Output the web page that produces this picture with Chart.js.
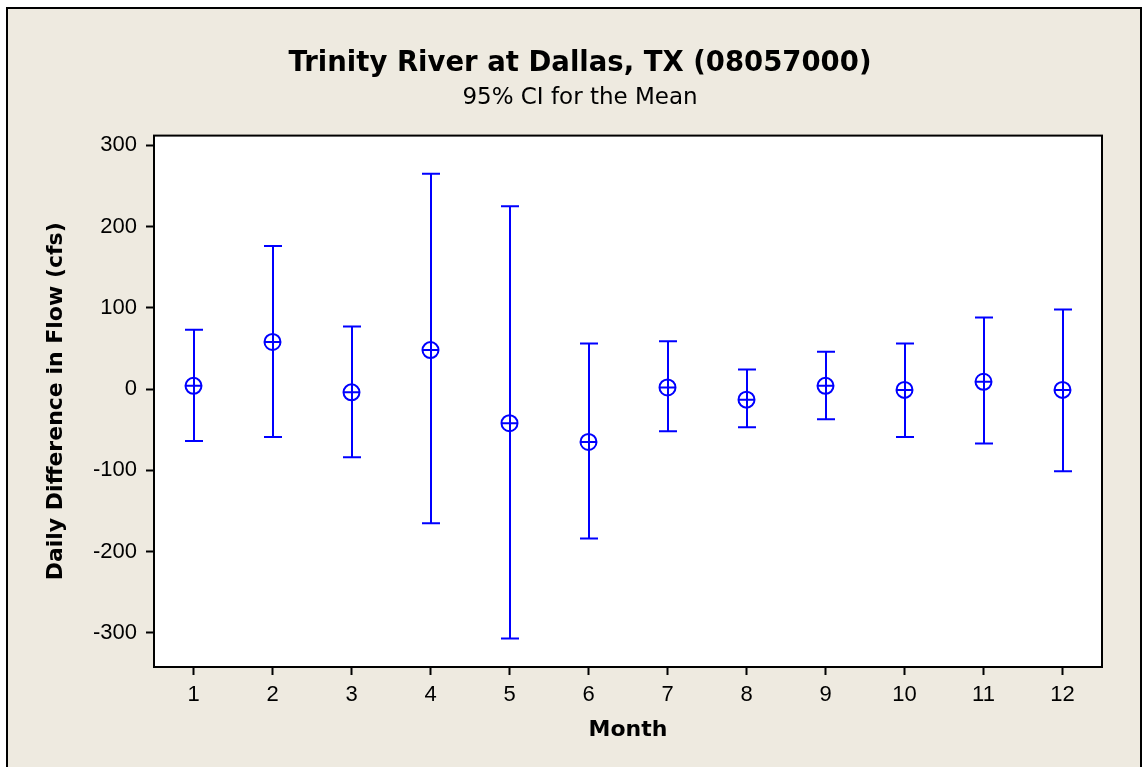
<!DOCTYPE html>
<html><head><meta charset="utf-8">
<script src="https://cdn.jsdelivr.net/npm/chart.js@4/dist/chart.umd.min.js"></script>
<style>html,body{margin:0;padding:0;background:#fff;overflow:hidden}#wrap{width:1144px;height:767px;position:relative}</style>
</head><body><div id="wrap"><canvas id="c"></canvas></div>
<script>
const months = [1,2,3,4,5,6,7,8,9,10,11,12];
const monthLabels = ['1','2','3','4','5','6','7','8','9','10','11','12'];
const meanValues = [4, 58, -4, 48, -42, -65, 2, -13, 4, -1, 9, -1];
const upperCI = [73, 176, 77, 265, 225, 56, 59, 24, 46, 56, 88, 98];
const lowerCI = [-64, -59, -84, -165, -307, -184, -52, -47, -37, -59, -67, -101];
const yTickValues = [-300, -200, -100, 0, 100, 200, 300];
const yTickLabels = ['-300', '-200', '-100', '0', '100', '200', '300'];

const BLUE = '#0000ff';
const BG = '#eeeae0';

const framePlugin = {
  id: 'frame',
  beforeDraw(chart) {
    const {ctx, chartArea: a, width, height} = chart;
    ctx.save();
    ctx.fillStyle = '#fff';
    ctx.fillRect(0, 0, width, height);
    ctx.fillStyle = BG;
    ctx.fillRect(7, 8, 1134, height);
    ctx.strokeStyle = '#000';
    ctx.lineWidth = 2;
    ctx.strokeRect(7, 8, 1134, height + 20);
    ctx.fillStyle = '#fff';
    ctx.fillRect(a.left, a.top, a.right - a.left, a.bottom - a.top);
    ctx.restore();
  },
  afterDraw(chart) {
    const {ctx, chartArea: a} = chart;
    ctx.save();
    ctx.strokeStyle = '#000';
    ctx.lineWidth = 2;
    ctx.strokeRect(a.left, a.top, a.right - a.left, a.bottom - a.top);
    ctx.restore();
  }
};

const errorBarPlugin = {
  id: 'errbars',
  afterDatasetsDraw(chart) {
    const {ctx} = chart;
    const xs = chart.scales.x, ys = chart.scales.y;
    ctx.save();
    ctx.strokeStyle = BLUE;
    ctx.lineWidth = 2;
    const cap = 9, r = 8;
    months.forEach((m, i) => {
      const x = Math.round(xs.getPixelForValue(m));
      const yU = ys.getPixelForValue(upperCI[i]);
      const yL = ys.getPixelForValue(lowerCI[i]);
      const yM = ys.getPixelForValue(meanValues[i]);
      ctx.beginPath();
      ctx.moveTo(x, yU); ctx.lineTo(x, yL);
      ctx.moveTo(x - cap, yU); ctx.lineTo(x + cap, yU);
      ctx.moveTo(x - cap, yL); ctx.lineTo(x + cap, yL);
      ctx.moveTo(x - r, yM); ctx.lineTo(x + r, yM);
      ctx.stroke();
    });
    ctx.restore();
  }
};

new Chart(document.getElementById('c'), {
  type: 'scatter',
  data: {
    datasets: [{
      data: months.map((m, i) => ({x: m, y: meanValues[i]})),
      pointStyle: 'circle',
      pointRadius: 8,
      pointHoverRadius: 8,
      pointBorderWidth: 2,
      borderColor: BLUE,
      backgroundColor: 'rgba(0,0,0,0)',
      showLine: false
    }]
  },
  options: {
    responsive: true,
    maintainAspectRatio: false,
    animation: false,
    devicePixelRatio: 1,
    events: [],
    layout: {padding: {left: 58, right: 42, top: 0, bottom: 0}},
    plugins: {
      legend: {display: false},
      tooltip: {enabled: false},
      title: {
        display: true,
        text: 'Trinity River at Dallas, TX (08057000)',
        color: '#000',
        font: {family: 'DejaVu Sans', size: 27.5, weight: 'bold'},
        padding: {top: 47, bottom: 0}
      },
      subtitle: {
        display: true,
        text: '95% CI for the Mean',
        color: '#000',
        font: {family: 'DejaVu Sans', size: 23},
        padding: {top: 4, bottom: 24}
      }
    },
    scales: {
      x: {
        type: 'linear',
        min: 0.5,
        max: 12.5,
        afterBuildTicks(s) { s.ticks = months.map(v => ({value: v})); },
        ticks: {
          color: '#000',
          padding: 7,
          font: {family: 'Liberation Sans', size: 22},
          callback: (v) => { const k = months.indexOf(v); return k >= 0 ? monthLabels[k] : ''; }
        },
        grid: {display: true, drawOnChartArea: false, drawTicks: true, tickLength: 8, tickWidth: 2, tickColor: '#000', color: '#000'},
        border: {display: true, color: '#000', width: 2},
        title: {
          display: true,
          text: 'Month',
          color: '#000',
          font: {family: 'DejaVu Sans', size: 22, weight: 'bold'},
          padding: {top: 0, bottom: 24}
        },
        afterFit(s) { s.height = 100; }
      },
      y: {
        type: 'linear',
        min: -342,
        max: 312,
        afterBuildTicks(s) { s.ticks = yTickValues.map(v => ({value: v})); },
        ticks: {
          color: '#000',
          padding: 9,
          font: {family: 'Liberation Sans', size: 22},
          callback: (v) => { const k = yTickValues.indexOf(v); return k >= 0 ? yTickLabels[k] : ''; }
        },
        grid: {display: true, drawOnChartArea: false, drawTicks: true, tickLength: 8, tickWidth: 2, tickColor: '#000', color: '#000'},
        border: {display: true, color: '#000', width: 2},
        title: {
          display: true,
          text: 'Daily Difference in Flow (cfs)',
          color: '#000',
          font: {family: 'DejaVu Sans', size: 22, weight: 'bold'},
          padding: {top: -15, bottom: 0}
        },
        afterFit(s) { s.width = 96; }
      }
    }
  },
  plugins: [framePlugin, errorBarPlugin]
});
</script>
</body></html>
